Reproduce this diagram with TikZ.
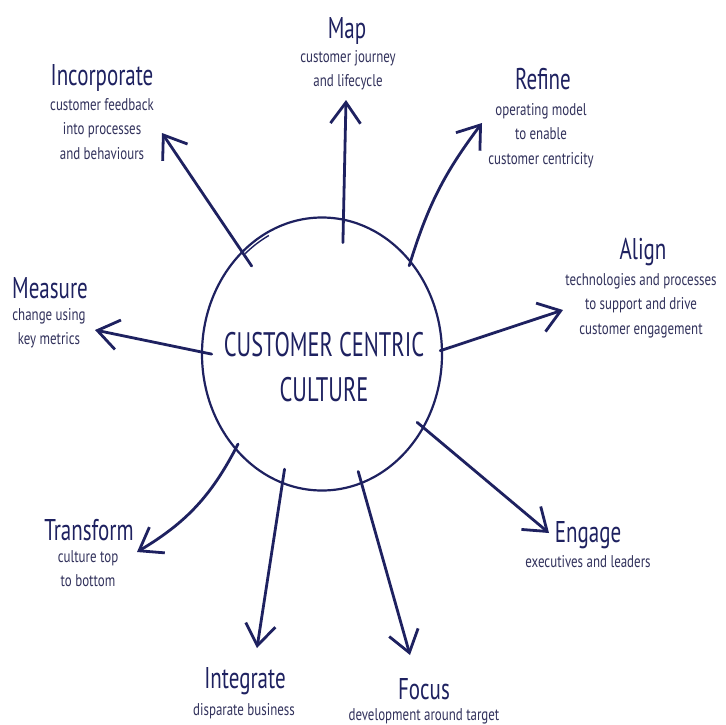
\documentclass[tikz,border=0pt]{standalone}
\usepackage{fontspec}
\setmainfont{PT Sans}
\newfontfamily\bodyfont[FakeStretch=0.76]{PT Sans}
\newfontfamily\titlefont[FakeStretch=0.7]{PT Sans}
\newfontfamily\hubfont[FakeStretch=0.66]{PT Sans}
\usetikzlibrary{arrows.meta,shapes.geometric,calc}
\definecolor{navy}{RGB}{30,33,96}
\definecolor{bodytext}{RGB}{50,50,92}
\begin{document}
\begin{tikzpicture}[x=1pt,y=-1pt,
  hub/.style={ellipse,draw=navy,line width=2.2pt,minimum width=240pt,minimum height=273pt,inner sep=0pt},
  spoke/.style={draw=navy,line width=2.8pt,line cap=round,-{Straight Barb[length=21pt,width=30pt]}},
  title/.style={anchor=base,text=navy,font=\titlefont\fontsize{30}{30}\selectfont,inner sep=0pt},
  body/.style={anchor=north,align=center,text=bodytext,font=\bodyfont\fontsize{17}{24.5}\selectfont,inner sep=0pt},
  hubtext/.style={anchor=north,align=center,text=navy,font=\hubfont\fontsize{34}{45}\selectfont,inner sep=0pt}
]
\useasboundingbox[fill=white] (0,0) rectangle (725,725);

\node[hub] (c) at (322,354) {};
\node[hubtext] (ct) at (324,332) {CUSTOMER CENTRIC\\CULTURE};

% small extra stroke just inside the circle, top left
\draw[navy,line width=1.4pt] ($(c.center)+(131:117pt and 133pt)$) arc[start angle=131,end angle=117,x radius=117pt,y radius=133pt];

% tips
\coordinate (tmap) at (346,100);
\coordinate (tinc) at (162,133);
\coordinate (tref) at (482,123);
\coordinate (tali) at (563,310);
\coordinate (tmea) at (95,330);
\coordinate (teng) at (549,533);
\coordinate (ttra) at (137,552);
\coordinate (tint) at (257,648);
\coordinate (tfoc) at (410,655);

\draw[spoke] ($(c.81)!-24pt!(tmap)$) -- (tmap);
\draw[spoke] ($(c.128)!-18pt!(tinc)$) -- (tinc);
\draw[spoke] ($(c.46)!-5pt!(tref)$) to[bend left=10] (tref);
\draw[spoke] ($(c.2)!-3pt!(tali)$) -- (tali);
\draw[spoke] ($(c.179)!-11pt!(tmea)$) -- (tmea);
\draw[spoke] ($(c.-36)!-9pt!(teng)$) -- (teng);
\draw[spoke] ($(c.-133)!-6pt!(ttra)$) to[bend left=16] (ttra);
\draw[spoke] ($(c.-107)!-15pt!(tint)$) -- (tint);
\draw[spoke] ($(c.-73)!-13pt!(tfoc)$) -- (tfoc);

% labels
\node[title] (lmap) at (347,38) {Map};
\node[body]  (bmap) at (348,50) {customer journey\\and lifecycle};

\node[title] (linc) at (102,85) {Incorporate};
\node[body]  (binc) at (102,98) {customer feedback\\into processes\\and behaviours};

\node[title] (lref) at (543,89) {Refine};
\node[body]  (bref) at (541,103) {operating model\\to enable\\customer centricity};

\node[title] (lali) at (643,259) {Align};
\node[body]  (bali) at (641,273) {technologies and processes\\to support and drive\\customer engagement};

\node[title] (lmea) at (50,298) {Measure};
\node[body]  (bmea) at (49,308) {change using\\key metrics};

\node[title] (ltra) at (89,540) {Transform};
\node[body]  (btra) at (88,550) {culture top\\to bottom};

\node[title] (leng) at (588,542) {Engage};
\node[body]  (beng) at (588,555) {executives and leaders};

\node[title] (lint) at (245,688) {Integrate};
\node[body]  (bint) at (244,703) {disparate business};

\node[title] (lfoc) at (424,699) {Focus};
\node[body]  (bfoc) at (424,708) {development around target};
\end{tikzpicture}
\end{document}
